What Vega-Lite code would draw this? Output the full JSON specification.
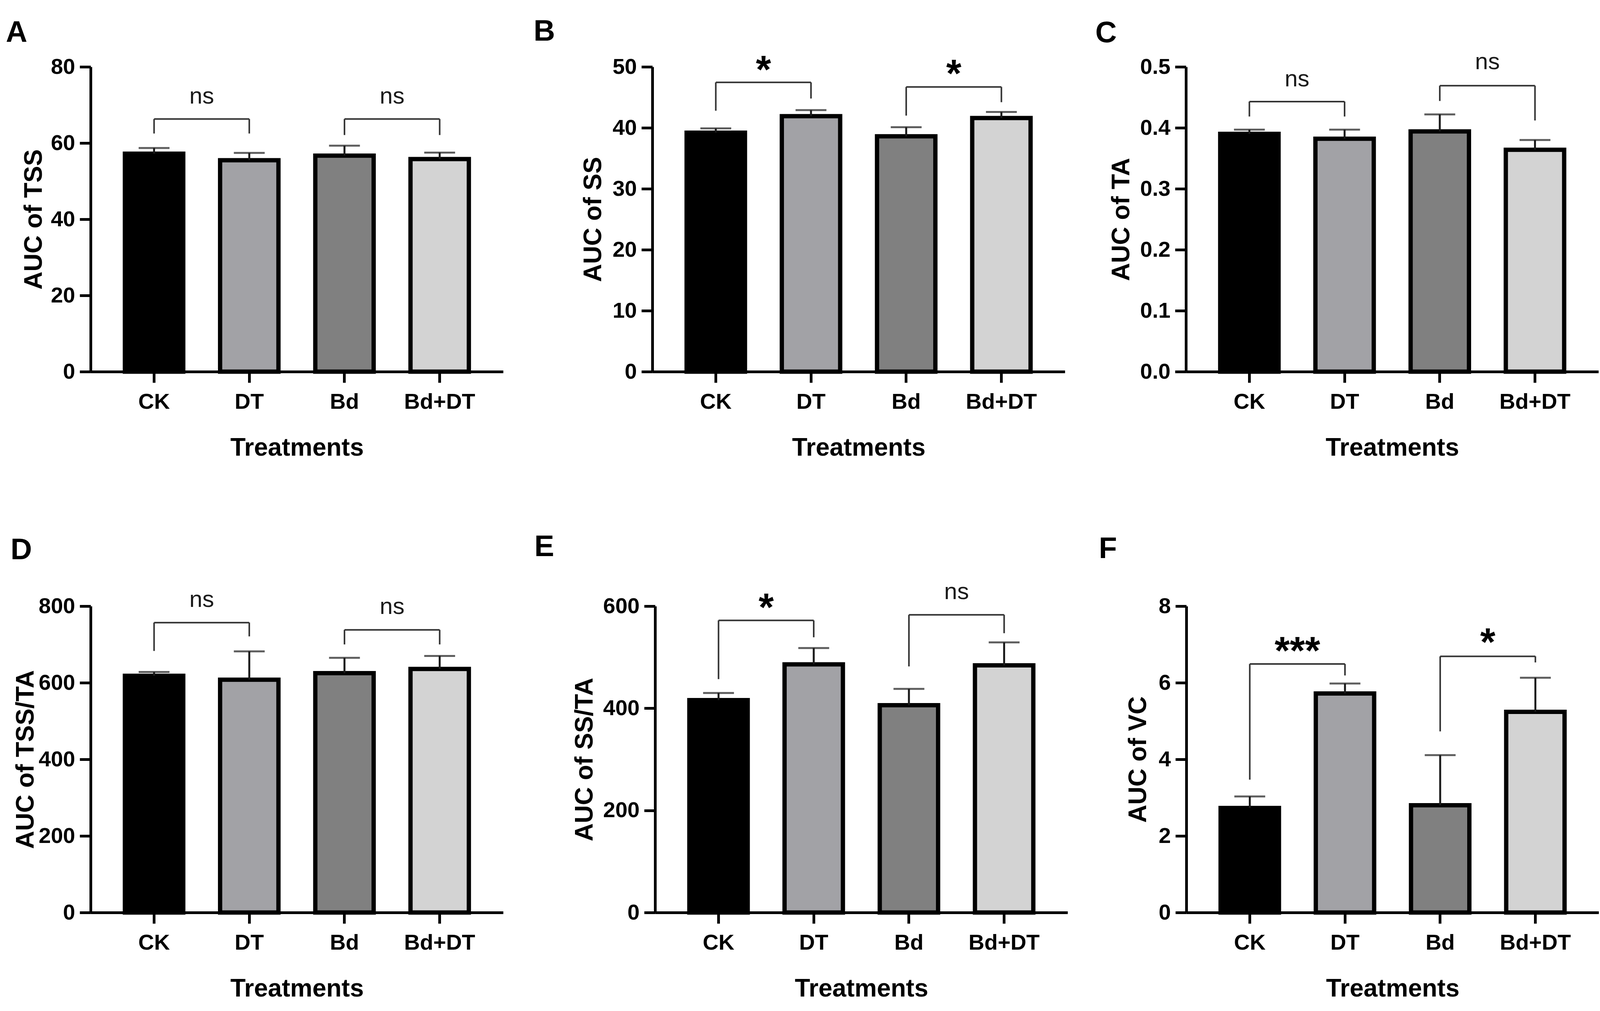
{
  "$schema": "https://vega.github.io/schema/vega-lite/v6.json",
  "background": "white",
  "padding": {"left": 15, "top": 42, "right": 0, "bottom": 0},
  "datasets": {
    "bars": [
      {"panel": "A", "group": "CK", "mean": 57.2, "upper": 58.7},
      {"panel": "A", "group": "DT", "mean": 55.5, "upper": 57.4},
      {"panel": "A", "group": "Bd", "mean": 56.7, "upper": 59.3},
      {"panel": "A", "group": "Bd+DT", "mean": 55.8, "upper": 57.5},
      {"panel": "B", "group": "CK", "mean": 39.2, "upper": 39.9},
      {"panel": "B", "group": "DT", "mean": 41.9, "upper": 42.9},
      {"panel": "B", "group": "Bd", "mean": 38.6, "upper": 40.1},
      {"panel": "B", "group": "Bd+DT", "mean": 41.6, "upper": 42.6},
      {"panel": "C", "group": "CK", "mean": 0.390, "upper": 0.397},
      {"panel": "C", "group": "DT", "mean": 0.382, "upper": 0.397},
      {"panel": "C", "group": "Bd", "mean": 0.394, "upper": 0.422},
      {"panel": "C", "group": "Bd+DT", "mean": 0.364, "upper": 0.380},
      {"panel": "D", "group": "CK", "mean": 618, "upper": 628},
      {"panel": "D", "group": "DT", "mean": 608, "upper": 682},
      {"panel": "D", "group": "Bd", "mean": 625, "upper": 665},
      {"panel": "D", "group": "Bd+DT", "mean": 636, "upper": 670},
      {"panel": "E", "group": "CK", "mean": 416, "upper": 430},
      {"panel": "E", "group": "DT", "mean": 486, "upper": 518},
      {"panel": "E", "group": "Bd", "mean": 406, "upper": 438},
      {"panel": "E", "group": "Bd+DT", "mean": 484, "upper": 529},
      {"panel": "F", "group": "CK", "mean": 2.73, "upper": 3.03},
      {"panel": "F", "group": "DT", "mean": 5.72, "upper": 5.98},
      {"panel": "F", "group": "Bd", "mean": 2.80, "upper": 4.11},
      {"panel": "F", "group": "Bd+DT", "mean": 5.24, "upper": 6.13}
    ],
    "sig": [
      {"panel": "A", "g1": "CK", "g2": "DT", "y": 66.3, "l1": 62.5, "l2": 62.5, "ly": 70.4, "label": "ns"},
      {"panel": "A", "g1": "Bd", "g2": "Bd+DT", "y": 66.3, "l1": 62.1, "l2": 62.1, "ly": 70.4, "label": "ns"},
      {"panel": "B", "g1": "CK", "g2": "DT", "y": 47.45, "l1": 42.8, "l2": 44.8, "ly": 47.4, "label": "*"},
      {"panel": "B", "g1": "Bd", "g2": "Bd+DT", "y": 46.7, "l1": 42.0, "l2": 44.2, "ly": 46.7, "label": "*"},
      {"panel": "C", "g1": "CK", "g2": "DT", "y": 0.443, "l1": 0.4185, "l2": 0.4185, "ly": 0.468, "label": "ns"},
      {"panel": "C", "g1": "Bd", "g2": "Bd+DT", "y": 0.469, "l1": 0.444, "l2": 0.412, "ly": 0.496, "label": "ns"},
      {"panel": "D", "g1": "CK", "g2": "DT", "y": 757, "l1": 683, "l2": 721, "ly": 798, "label": "ns"},
      {"panel": "D", "g1": "Bd", "g2": "Bd+DT", "y": 738, "l1": 700, "l2": 700, "ly": 780, "label": "ns"},
      {"panel": "E", "g1": "CK", "g2": "DT", "y": 572, "l1": 457, "l2": 539, "ly": 572, "label": "*"},
      {"panel": "E", "g1": "Bd", "g2": "Bd+DT", "y": 583, "l1": 482, "l2": 547, "ly": 614, "label": "ns"},
      {"panel": "F", "g1": "CK", "g2": "DT", "y": 6.49, "l1": 3.47, "l2": 6.19, "ly": 6.49, "label": "***"},
      {"panel": "F", "g1": "Bd", "g2": "Bd+DT", "y": 6.69, "l1": 4.73, "l2": 6.53, "ly": 6.71, "label": "*"}
    ]
  },
  "spacing": 183,
  "vconcat": [
    {
      "spacing": 78,
      "hconcat": [
        {
          "width": 1056, "height": 780,
          "title": {"text": "A", "anchor": "start", "frame": "bounds", "dx": -40, "offset": 20},
          "layer": [
            {"data": {"name": "bars"}, "transform": [{"filter": "datum.panel === 'A'"}],
             "mark": {"type": "bar", "stroke": "#000000", "strokeWidth": 11},
             "encoding": {
               "x": {"field": "group", "type": "nominal", "scale": {"domain": ["CK", "DT", "Bd", "Bd+DT"], "paddingInner": 0.387, "paddingOuter": 0.36}, "axis": {"title": "Treatments", "labelAngle": 0}},
               "y": {"field": "mean", "type": "quantitative", "scale": {"domain": [0, 80], "nice": false}, "axis": {"title": "AUC of TSS", "values": [0, 20, 40, 60, 80], "minExtent": 110, "maxExtent": 110, "titlePadding": 3}},
               "fill": {"field": "group", "type": "nominal", "scale": {"domain": ["CK", "DT", "Bd", "Bd+DT"], "range": ["#000000", "#a2a2a6", "#808080", "#d3d3d3"]}, "legend": null}
             }},
            {"data": {"name": "bars"}, "transform": [{"filter": "datum.panel === 'A'"}],
             "mark": {"type": "rule", "color": "#1a1a1a", "strokeWidth": 5},
             "encoding": {"x": {"field": "group", "type": "nominal", "title": "Treatments"}, "y": {"field": "mean", "type": "quantitative", "title": "AUC of TSS"}, "y2": {"field": "upper"}}},
            {"data": {"name": "bars"}, "transform": [{"filter": "datum.panel === 'A'"}],
             "mark": {"type": "tick", "color": "#1a1a1a", "thickness": 5, "size": 79},
             "encoding": {"x": {"field": "group", "type": "nominal", "title": "Treatments"}, "y": {"field": "upper", "type": "quantitative", "title": "AUC of TSS"}}},
            {"data": {"name": "sig"}, "transform": [{"filter": "datum.panel === 'A'"}],
             "mark": {"type": "rule", "color": "#333333", "strokeWidth": 4},
             "encoding": {"x": {"field": "g1", "type": "nominal", "title": "Treatments"}, "x2": {"field": "g2"}, "y": {"field": "y", "type": "quantitative", "title": "AUC of TSS"}}},
            {"data": {"name": "sig"}, "transform": [{"filter": "datum.panel === 'A'"}],
             "mark": {"type": "rule", "color": "#333333", "strokeWidth": 4},
             "encoding": {"x": {"field": "g1", "type": "nominal", "title": "Treatments"}, "y": {"field": "y", "type": "quantitative", "title": "AUC of TSS"}, "y2": {"field": "l1"}}},
            {"data": {"name": "sig"}, "transform": [{"filter": "datum.panel === 'A'"}],
             "mark": {"type": "rule", "color": "#333333", "strokeWidth": 4},
             "encoding": {"x": {"field": "g2", "type": "nominal", "title": "Treatments"}, "y": {"field": "y", "type": "quantitative", "title": "AUC of TSS"}, "y2": {"field": "l2"}}},
            {"data": {"name": "sig"}, "transform": [{"filter": "datum.panel === 'A' && datum.label === 'ns'"}],
             "mark": {"type": "text", "fontSize": 60, "fontWeight": "normal", "baseline": "alphabetic", "dx": 121.9, "color": "#1a1a1a"},
             "encoding": {"x": {"field": "g1", "type": "nominal", "title": "Treatments"}, "y": {"field": "ly", "type": "quantitative", "title": "AUC of TSS"}, "text": {"field": "label"}}},
            {"data": {"name": "sig"}, "transform": [{"filter": "datum.panel === 'A' && datum.label !== 'ns'"}],
             "mark": {"type": "text", "fontSize": 100, "fontWeight": "bold", "baseline": "alphabetic", "dx": 121.9, "color": "#000000"},
             "encoding": {"x": {"field": "g1", "type": "nominal", "title": "Treatments"}, "y": {"field": "ly", "type": "quantitative", "title": "AUC of TSS"}, "text": {"field": "label"}}}
          ]
        },
        {
          "width": 1056, "height": 780,
          "title": {"text": "B", "anchor": "start", "frame": "bounds", "dx": -121, "offset": 12},
          "layer": [
            {"data": {"name": "bars"}, "transform": [{"filter": "datum.panel === 'B'"}],
             "mark": {"type": "bar", "stroke": "#000000", "strokeWidth": 11},
             "encoding": {
               "x": {"field": "group", "type": "nominal", "scale": {"domain": ["CK", "DT", "Bd", "Bd+DT"], "paddingInner": 0.387, "paddingOuter": 0.36}, "axis": {"title": "Treatments", "labelAngle": 0}},
               "y": {"field": "mean", "type": "quantitative", "scale": {"domain": [0, 50], "nice": false}, "axis": {"title": "AUC of SS", "values": [0, 10, 20, 30, 40, 50], "minExtent": 110, "maxExtent": 110, "titlePadding": 9}},
               "fill": {"field": "group", "type": "nominal", "scale": {"domain": ["CK", "DT", "Bd", "Bd+DT"], "range": ["#000000", "#a2a2a6", "#808080", "#d3d3d3"]}, "legend": null}
             }},
            {"data": {"name": "bars"}, "transform": [{"filter": "datum.panel === 'B'"}],
             "mark": {"type": "rule", "color": "#1a1a1a", "strokeWidth": 5},
             "encoding": {"x": {"field": "group", "type": "nominal", "title": "Treatments"}, "y": {"field": "mean", "type": "quantitative", "title": "AUC of SS"}, "y2": {"field": "upper"}}},
            {"data": {"name": "bars"}, "transform": [{"filter": "datum.panel === 'B'"}],
             "mark": {"type": "tick", "color": "#1a1a1a", "thickness": 5, "size": 79},
             "encoding": {"x": {"field": "group", "type": "nominal", "title": "Treatments"}, "y": {"field": "upper", "type": "quantitative", "title": "AUC of SS"}}},
            {"data": {"name": "sig"}, "transform": [{"filter": "datum.panel === 'B'"}],
             "mark": {"type": "rule", "color": "#333333", "strokeWidth": 4},
             "encoding": {"x": {"field": "g1", "type": "nominal", "title": "Treatments"}, "x2": {"field": "g2"}, "y": {"field": "y", "type": "quantitative", "title": "AUC of SS"}}},
            {"data": {"name": "sig"}, "transform": [{"filter": "datum.panel === 'B'"}],
             "mark": {"type": "rule", "color": "#333333", "strokeWidth": 4},
             "encoding": {"x": {"field": "g1", "type": "nominal", "title": "Treatments"}, "y": {"field": "y", "type": "quantitative", "title": "AUC of SS"}, "y2": {"field": "l1"}}},
            {"data": {"name": "sig"}, "transform": [{"filter": "datum.panel === 'B'"}],
             "mark": {"type": "rule", "color": "#333333", "strokeWidth": 4},
             "encoding": {"x": {"field": "g2", "type": "nominal", "title": "Treatments"}, "y": {"field": "y", "type": "quantitative", "title": "AUC of SS"}, "y2": {"field": "l2"}}},
            {"data": {"name": "sig"}, "transform": [{"filter": "datum.panel === 'B' && datum.label === 'ns'"}],
             "mark": {"type": "text", "fontSize": 60, "fontWeight": "normal", "baseline": "alphabetic", "dx": 121.9, "color": "#1a1a1a"},
             "encoding": {"x": {"field": "g1", "type": "nominal", "title": "Treatments"}, "y": {"field": "ly", "type": "quantitative", "title": "AUC of SS"}, "text": {"field": "label"}}},
            {"data": {"name": "sig"}, "transform": [{"filter": "datum.panel === 'B' && datum.label !== 'ns'"}],
             "mark": {"type": "text", "fontSize": 100, "fontWeight": "bold", "baseline": "alphabetic", "dx": 121.9, "color": "#000000"},
             "encoding": {"x": {"field": "g1", "type": "nominal", "title": "Treatments"}, "y": {"field": "ly", "type": "quantitative", "title": "AUC of SS"}, "text": {"field": "label"}}}
          ]
        },
        {
          "width": 1056, "height": 780,
          "title": {"text": "C", "anchor": "start", "frame": "bounds", "dx": -35, "offset": 5},
          "layer": [
            {"data": {"name": "bars"}, "transform": [{"filter": "datum.panel === 'C'"}],
             "mark": {"type": "bar", "stroke": "#000000", "strokeWidth": 11},
             "encoding": {
               "x": {"field": "group", "type": "nominal", "scale": {"domain": ["CK", "DT", "Bd", "Bd+DT"], "paddingInner": 0.387, "paddingOuter": 0.36}, "axis": {"title": "Treatments", "labelAngle": 0}},
               "y": {"field": "mean", "type": "quantitative", "scale": {"domain": [0, 0.5], "nice": false}, "axis": {"title": "AUC of TA", "values": [0, 0.1, 0.2, 0.3, 0.4, 0.5], "format": ".1f", "minExtent": 125, "maxExtent": 125, "titlePadding": 8}},
               "fill": {"field": "group", "type": "nominal", "scale": {"domain": ["CK", "DT", "Bd", "Bd+DT"], "range": ["#000000", "#a2a2a6", "#808080", "#d3d3d3"]}, "legend": null}
             }},
            {"data": {"name": "bars"}, "transform": [{"filter": "datum.panel === 'C'"}],
             "mark": {"type": "rule", "color": "#1a1a1a", "strokeWidth": 5},
             "encoding": {"x": {"field": "group", "type": "nominal", "title": "Treatments"}, "y": {"field": "mean", "type": "quantitative", "title": "AUC of TA"}, "y2": {"field": "upper"}}},
            {"data": {"name": "bars"}, "transform": [{"filter": "datum.panel === 'C'"}],
             "mark": {"type": "tick", "color": "#1a1a1a", "thickness": 5, "size": 79},
             "encoding": {"x": {"field": "group", "type": "nominal", "title": "Treatments"}, "y": {"field": "upper", "type": "quantitative", "title": "AUC of TA"}}},
            {"data": {"name": "sig"}, "transform": [{"filter": "datum.panel === 'C'"}],
             "mark": {"type": "rule", "color": "#333333", "strokeWidth": 4},
             "encoding": {"x": {"field": "g1", "type": "nominal", "title": "Treatments"}, "x2": {"field": "g2"}, "y": {"field": "y", "type": "quantitative", "title": "AUC of TA"}}},
            {"data": {"name": "sig"}, "transform": [{"filter": "datum.panel === 'C'"}],
             "mark": {"type": "rule", "color": "#333333", "strokeWidth": 4},
             "encoding": {"x": {"field": "g1", "type": "nominal", "title": "Treatments"}, "y": {"field": "y", "type": "quantitative", "title": "AUC of TA"}, "y2": {"field": "l1"}}},
            {"data": {"name": "sig"}, "transform": [{"filter": "datum.panel === 'C'"}],
             "mark": {"type": "rule", "color": "#333333", "strokeWidth": 4},
             "encoding": {"x": {"field": "g2", "type": "nominal", "title": "Treatments"}, "y": {"field": "y", "type": "quantitative", "title": "AUC of TA"}, "y2": {"field": "l2"}}},
            {"data": {"name": "sig"}, "transform": [{"filter": "datum.panel === 'C' && datum.label === 'ns'"}],
             "mark": {"type": "text", "fontSize": 60, "fontWeight": "normal", "baseline": "alphabetic", "dx": 121.9, "color": "#1a1a1a"},
             "encoding": {"x": {"field": "g1", "type": "nominal", "title": "Treatments"}, "y": {"field": "ly", "type": "quantitative", "title": "AUC of TA"}, "text": {"field": "label"}}},
            {"data": {"name": "sig"}, "transform": [{"filter": "datum.panel === 'C' && datum.label !== 'ns'"}],
             "mark": {"type": "text", "fontSize": 100, "fontWeight": "bold", "baseline": "alphabetic", "dx": 121.9, "color": "#000000"},
             "encoding": {"x": {"field": "g1", "type": "nominal", "title": "Treatments"}, "y": {"field": "ly", "type": "quantitative", "title": "AUC of TA"}, "text": {"field": "label"}}}
          ]
        }
      ]
    },
    {
      "spacing": 80,
      "hconcat": [
        {
          "width": 1056, "height": 784,
          "title": {"text": "D", "anchor": "start", "frame": "bounds", "dx": -7, "offset": 58},
          "layer": [
            {"data": {"name": "bars"}, "transform": [{"filter": "datum.panel === 'D'"}],
             "mark": {"type": "bar", "stroke": "#000000", "strokeWidth": 11},
             "encoding": {
               "x": {"field": "group", "type": "nominal", "scale": {"domain": ["CK", "DT", "Bd", "Bd+DT"], "paddingInner": 0.387, "paddingOuter": 0.36}, "axis": {"title": "Treatments", "labelAngle": 0}},
               "y": {"field": "mean", "type": "quantitative", "scale": {"domain": [0, 800], "nice": false}, "axis": {"title": "AUC of TSS/TA", "values": [0, 200, 400, 600, 800], "minExtent": 132, "maxExtent": 132, "titlePadding": 2}},
               "fill": {"field": "group", "type": "nominal", "scale": {"domain": ["CK", "DT", "Bd", "Bd+DT"], "range": ["#000000", "#a2a2a6", "#808080", "#d3d3d3"]}, "legend": null}
             }},
            {"data": {"name": "bars"}, "transform": [{"filter": "datum.panel === 'D'"}],
             "mark": {"type": "rule", "color": "#1a1a1a", "strokeWidth": 5},
             "encoding": {"x": {"field": "group", "type": "nominal", "title": "Treatments"}, "y": {"field": "mean", "type": "quantitative", "title": "AUC of TSS/TA"}, "y2": {"field": "upper"}}},
            {"data": {"name": "bars"}, "transform": [{"filter": "datum.panel === 'D'"}],
             "mark": {"type": "tick", "color": "#1a1a1a", "thickness": 5, "size": 79},
             "encoding": {"x": {"field": "group", "type": "nominal", "title": "Treatments"}, "y": {"field": "upper", "type": "quantitative", "title": "AUC of TSS/TA"}}},
            {"data": {"name": "sig"}, "transform": [{"filter": "datum.panel === 'D'"}],
             "mark": {"type": "rule", "color": "#333333", "strokeWidth": 4},
             "encoding": {"x": {"field": "g1", "type": "nominal", "title": "Treatments"}, "x2": {"field": "g2"}, "y": {"field": "y", "type": "quantitative", "title": "AUC of TSS/TA"}}},
            {"data": {"name": "sig"}, "transform": [{"filter": "datum.panel === 'D'"}],
             "mark": {"type": "rule", "color": "#333333", "strokeWidth": 4},
             "encoding": {"x": {"field": "g1", "type": "nominal", "title": "Treatments"}, "y": {"field": "y", "type": "quantitative", "title": "AUC of TSS/TA"}, "y2": {"field": "l1"}}},
            {"data": {"name": "sig"}, "transform": [{"filter": "datum.panel === 'D'"}],
             "mark": {"type": "rule", "color": "#333333", "strokeWidth": 4},
             "encoding": {"x": {"field": "g2", "type": "nominal", "title": "Treatments"}, "y": {"field": "y", "type": "quantitative", "title": "AUC of TSS/TA"}, "y2": {"field": "l2"}}},
            {"data": {"name": "sig"}, "transform": [{"filter": "datum.panel === 'D' && datum.label === 'ns'"}],
             "mark": {"type": "text", "fontSize": 60, "fontWeight": "normal", "baseline": "alphabetic", "dx": 121.9, "color": "#1a1a1a"},
             "encoding": {"x": {"field": "g1", "type": "nominal", "title": "Treatments"}, "y": {"field": "ly", "type": "quantitative", "title": "AUC of TSS/TA"}, "text": {"field": "label"}}},
            {"data": {"name": "sig"}, "transform": [{"filter": "datum.panel === 'D' && datum.label !== 'ns'"}],
             "mark": {"type": "text", "fontSize": 100, "fontWeight": "bold", "baseline": "alphabetic", "dx": 121.9, "color": "#000000"},
             "encoding": {"x": {"field": "g1", "type": "nominal", "title": "Treatments"}, "y": {"field": "ly", "type": "quantitative", "title": "AUC of TSS/TA"}, "text": {"field": "label"}}}
          ]
        },
        {
          "width": 1056, "height": 784,
          "title": {"text": "E", "anchor": "start", "frame": "bounds", "dx": -97, "offset": 46},
          "layer": [
            {"data": {"name": "bars"}, "transform": [{"filter": "datum.panel === 'E'"}],
             "mark": {"type": "bar", "stroke": "#000000", "strokeWidth": 11},
             "encoding": {
               "x": {"field": "group", "type": "nominal", "scale": {"domain": ["CK", "DT", "Bd", "Bd+DT"], "paddingInner": 0.387, "paddingOuter": 0.36}, "axis": {"title": "Treatments", "labelAngle": 0}},
               "y": {"field": "mean", "type": "quantitative", "scale": {"domain": [0, 600], "nice": false}, "axis": {"title": "AUC of SS/TA", "values": [0, 200, 400, 600], "minExtent": 140, "maxExtent": 140, "titlePadding": 8}},
               "fill": {"field": "group", "type": "nominal", "scale": {"domain": ["CK", "DT", "Bd", "Bd+DT"], "range": ["#000000", "#a2a2a6", "#808080", "#d3d3d3"]}, "legend": null}
             }},
            {"data": {"name": "bars"}, "transform": [{"filter": "datum.panel === 'E'"}],
             "mark": {"type": "rule", "color": "#1a1a1a", "strokeWidth": 5},
             "encoding": {"x": {"field": "group", "type": "nominal", "title": "Treatments"}, "y": {"field": "mean", "type": "quantitative", "title": "AUC of SS/TA"}, "y2": {"field": "upper"}}},
            {"data": {"name": "bars"}, "transform": [{"filter": "datum.panel === 'E'"}],
             "mark": {"type": "tick", "color": "#1a1a1a", "thickness": 5, "size": 79},
             "encoding": {"x": {"field": "group", "type": "nominal", "title": "Treatments"}, "y": {"field": "upper", "type": "quantitative", "title": "AUC of SS/TA"}}},
            {"data": {"name": "sig"}, "transform": [{"filter": "datum.panel === 'E'"}],
             "mark": {"type": "rule", "color": "#333333", "strokeWidth": 4},
             "encoding": {"x": {"field": "g1", "type": "nominal", "title": "Treatments"}, "x2": {"field": "g2"}, "y": {"field": "y", "type": "quantitative", "title": "AUC of SS/TA"}}},
            {"data": {"name": "sig"}, "transform": [{"filter": "datum.panel === 'E'"}],
             "mark": {"type": "rule", "color": "#333333", "strokeWidth": 4},
             "encoding": {"x": {"field": "g1", "type": "nominal", "title": "Treatments"}, "y": {"field": "y", "type": "quantitative", "title": "AUC of SS/TA"}, "y2": {"field": "l1"}}},
            {"data": {"name": "sig"}, "transform": [{"filter": "datum.panel === 'E'"}],
             "mark": {"type": "rule", "color": "#333333", "strokeWidth": 4},
             "encoding": {"x": {"field": "g2", "type": "nominal", "title": "Treatments"}, "y": {"field": "y", "type": "quantitative", "title": "AUC of SS/TA"}, "y2": {"field": "l2"}}},
            {"data": {"name": "sig"}, "transform": [{"filter": "datum.panel === 'E' && datum.label === 'ns'"}],
             "mark": {"type": "text", "fontSize": 60, "fontWeight": "normal", "baseline": "alphabetic", "dx": 121.9, "color": "#1a1a1a"},
             "encoding": {"x": {"field": "g1", "type": "nominal", "title": "Treatments"}, "y": {"field": "ly", "type": "quantitative", "title": "AUC of SS/TA"}, "text": {"field": "label"}}},
            {"data": {"name": "sig"}, "transform": [{"filter": "datum.panel === 'E' && datum.label !== 'ns'"}],
             "mark": {"type": "text", "fontSize": 100, "fontWeight": "bold", "baseline": "alphabetic", "dx": 121.9, "color": "#000000"},
             "encoding": {"x": {"field": "g1", "type": "nominal", "title": "Treatments"}, "y": {"field": "ly", "type": "quantitative", "title": "AUC of SS/TA"}, "text": {"field": "label"}}}
          ]
        },
        {
          "width": 1056, "height": 784,
          "title": {"text": "F", "anchor": "start", "frame": "bounds", "dx": -69, "offset": 79},
          "layer": [
            {"data": {"name": "bars"}, "transform": [{"filter": "datum.panel === 'F'"}],
             "mark": {"type": "bar", "stroke": "#000000", "strokeWidth": 11},
             "encoding": {
               "x": {"field": "group", "type": "nominal", "scale": {"domain": ["CK", "DT", "Bd", "Bd+DT"], "paddingInner": 0.387, "paddingOuter": 0.36}, "axis": {"title": "Treatments", "labelAngle": 0}},
               "y": {"field": "mean", "type": "quantitative", "scale": {"domain": [0, 8], "nice": false}, "axis": {"title": "AUC of VC", "values": [0, 2, 4, 6, 8], "format": "d", "minExtent": 80, "maxExtent": 80, "titlePadding": 11}},
               "fill": {"field": "group", "type": "nominal", "scale": {"domain": ["CK", "DT", "Bd", "Bd+DT"], "range": ["#000000", "#a2a2a6", "#808080", "#d3d3d3"]}, "legend": null}
             }},
            {"data": {"name": "bars"}, "transform": [{"filter": "datum.panel === 'F'"}],
             "mark": {"type": "rule", "color": "#1a1a1a", "strokeWidth": 5},
             "encoding": {"x": {"field": "group", "type": "nominal", "title": "Treatments"}, "y": {"field": "mean", "type": "quantitative", "title": "AUC of VC"}, "y2": {"field": "upper"}}},
            {"data": {"name": "bars"}, "transform": [{"filter": "datum.panel === 'F'"}],
             "mark": {"type": "tick", "color": "#1a1a1a", "thickness": 5, "size": 79},
             "encoding": {"x": {"field": "group", "type": "nominal", "title": "Treatments"}, "y": {"field": "upper", "type": "quantitative", "title": "AUC of VC"}}},
            {"data": {"name": "sig"}, "transform": [{"filter": "datum.panel === 'F'"}],
             "mark": {"type": "rule", "color": "#333333", "strokeWidth": 4},
             "encoding": {"x": {"field": "g1", "type": "nominal", "title": "Treatments"}, "x2": {"field": "g2"}, "y": {"field": "y", "type": "quantitative", "title": "AUC of VC"}}},
            {"data": {"name": "sig"}, "transform": [{"filter": "datum.panel === 'F'"}],
             "mark": {"type": "rule", "color": "#333333", "strokeWidth": 4},
             "encoding": {"x": {"field": "g1", "type": "nominal", "title": "Treatments"}, "y": {"field": "y", "type": "quantitative", "title": "AUC of VC"}, "y2": {"field": "l1"}}},
            {"data": {"name": "sig"}, "transform": [{"filter": "datum.panel === 'F'"}],
             "mark": {"type": "rule", "color": "#333333", "strokeWidth": 4},
             "encoding": {"x": {"field": "g2", "type": "nominal", "title": "Treatments"}, "y": {"field": "y", "type": "quantitative", "title": "AUC of VC"}, "y2": {"field": "l2"}}},
            {"data": {"name": "sig"}, "transform": [{"filter": "datum.panel === 'F' && datum.label === 'ns'"}],
             "mark": {"type": "text", "fontSize": 60, "fontWeight": "normal", "baseline": "alphabetic", "dx": 121.9, "color": "#1a1a1a"},
             "encoding": {"x": {"field": "g1", "type": "nominal", "title": "Treatments"}, "y": {"field": "ly", "type": "quantitative", "title": "AUC of VC"}, "text": {"field": "label"}}},
            {"data": {"name": "sig"}, "transform": [{"filter": "datum.panel === 'F' && datum.label !== 'ns'"}],
             "mark": {"type": "text", "fontSize": 100, "fontWeight": "bold", "baseline": "alphabetic", "dx": 121.9, "color": "#000000"},
             "encoding": {"x": {"field": "g1", "type": "nominal", "title": "Treatments"}, "y": {"field": "ly", "type": "quantitative", "title": "AUC of VC"}, "text": {"field": "label"}}}
          ]
        }
      ]
    }
  ],
  "config": {
    "font": "Liberation Sans",
    "view": {"stroke": null},
    "title": {"font": "Liberation Sans", "fontSize": 76, "fontWeight": "bold", "color": "#000000"},
    "text": {"font": "Liberation Sans"},
    "axis": {
      "grid": false,
      "zindex": 1,
      "domainColor": "#000000",
      "domainWidth": 7,
      "tickColor": "#000000",
      "tickWidth": 7,
      "tickSize": 28,
      "labelFont": "Liberation Sans",
      "labelFontWeight": "bold",
      "labelFontSize": 56,
      "labelColor": "#000000",
      "labelLimit": 0,
      "titleFont": "Liberation Sans",
      "titleFontWeight": "bold",
      "titleFontSize": 64,
      "titleColor": "#000000"
    },
    "axisX": {"labelPadding": 22, "titlePadding": 58, "labelAngle": 0},
    "axisY": {"labelPadding": 12, "labelFlush": false}
  }
}
